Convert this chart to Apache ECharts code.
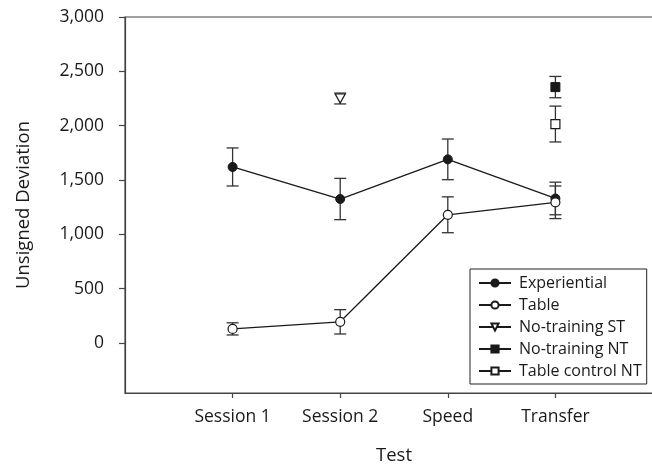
<!DOCTYPE html>
<html>
<head>
<meta charset="utf-8">
<script src="https://cdn.jsdelivr.net/npm/echarts@6/dist/echarts.min.js"></script>
<style>html,body{margin:0;padding:0;background:#fff}#c{width:652px;height:466px}</style>
</head>
<body>
<div id="c"></div>
<script>
var categories = ['Session 1', 'Session 2', 'Speed', 'Transfer'];
var catPos = [1, 2, 3, 4];
var yTicks = [0, 500, 1000, 1500, 2000, 2500, 3000];

var experiential = [1620, 1325, 1690, 1330];
var experientialErr = [175, 190, 187, 150];
var table = [130, 195, 1180, 1295];
var tableErr = [56, 112, 165, 150];
var noTrainingST = [2250];      // Session 2
var noTrainingSTErr = [50];
var noTrainingNT = [2355];      // Transfer
var noTrainingNTErr = [98];
var tableControlNT = [2015];    // Transfer
var tableControlNTErr = [165];

var FONT = 'Open Sans';
var INK = '#1a1a1a';

function pts(xs, ys) { return ys.map(function (v, i) { return [xs[i], v]; }); }
function bars(xs, ys, es) { return ys.map(function (v, i) { return [xs[i], v - es[i], v + es[i]]; }); }

var errData = []
  .concat(bars(catPos, experiential, experientialErr))
  .concat(bars(catPos, table, tableErr))
  .concat(bars([2], noTrainingST, noTrainingSTErr))
  .concat(bars([4], noTrainingNT, noTrainingNTErr))
  .concat(bars([4], tableControlNT, tableControlNTErr));

var chart = echarts.init(document.getElementById('c'));
var lineW = 1.3;
chart.setOption({
  animation: false,
  backgroundColor: '#fff',
  grid: { left: 125, top: 17, width: 538, height: 376, outerBoundsMode: 'none', containLabel: false,
    show: true, borderColor: '#444', borderWidth: 1.2, backgroundColor: 'transparent' },
  xAxis: {
    type: 'value', min: 0, max: 5,
    name: 'Test', nameLocation: 'middle', nameGap: 53,
    nameTextStyle: { fontFamily: FONT, fontSize: 18.5, color: INK },
    axisLine: { show: true, onZero: false, lineStyle: { color: '#444', width: 1.2 } },
    axisTick: { show: true, length: 5, customValues: catPos, lineStyle: { color: '#444', width: 1.2 } },
    axisLabel: { customValues: catPos, margin: 15, fontFamily: FONT, fontSize: 17.5, color: INK,
      formatter: function (v) { var i = catPos.indexOf(v); return i >= 0 ? categories[i] : ''; } },
    splitLine: { show: false }
  },
  yAxis: {
    type: 'value', min: -460, max: 3000,
    name: 'Unsigned Deviation', nameLocation: 'middle', nameGap: 92,
    nameTextStyle: { fontFamily: FONT, fontSize: 18.5, color: INK },
    axisLine: { show: true, onZero: false, lineStyle: { color: '#444', width: 1.2 } },
    axisTick: { show: true, length: 6, customValues: yTicks, lineStyle: { color: '#444', width: 1.2 } },
    axisLabel: { customValues: yTicks, margin: 21, fontFamily: FONT, fontSize: 17.5, color: INK,
      formatter: function (v) { return v.toLocaleString('en-US'); } },
    splitLine: { show: false }
  },
  legend: {
    orient: 'vertical', left: 470, top: 269,
    backgroundColor: '#fff', borderColor: '#222', borderWidth: 1,
    padding: [6, 5, 5, 8], itemGap: 6, itemWidth: 32, itemHeight: 9,
    textStyle: { fontFamily: FONT, fontSize: 16, color: INK, padding: [0, 0, 0, 3] },
    data: ['Experiential', 'Table', 'No-training ST', 'No-training NT', 'Table control NT']
  },
  series: [
    {
      type: 'custom', name: 'err', z: 1, silent: true,
      data: errData,
      renderItem: function (params, api) {
        var x = api.value(0);
        var lo = api.coord([x, api.value(1)]);
        var hi = api.coord([x, api.value(2)]);
        var w = 6;
        var st = { stroke: '#333', lineWidth: 1.3 };
        return { type: 'group', children: [
          { type: 'line', shape: { x1: lo[0], y1: lo[1], x2: hi[0], y2: hi[1] }, style: st },
          { type: 'line', shape: { x1: lo[0] - w, y1: lo[1], x2: lo[0] + w, y2: lo[1] }, style: st },
          { type: 'line', shape: { x1: hi[0] - w, y1: hi[1], x2: hi[0] + w, y2: hi[1] }, style: st }
        ] };
      }
    },
    {
      type: 'line', name: 'Experiential', z: 3, data: pts(catPos, experiential),
      symbol: 'circle', symbolSize: 9,
      lineStyle: { color: INK, width: lineW }, itemStyle: { color: INK, borderColor: INK, borderWidth: 1 }
    },
    {
      type: 'line', name: 'Table', z: 3, data: pts(catPos, table),
      symbol: 'circle', symbolSize: 9,
      lineStyle: { color: INK, width: lineW }, itemStyle: { color: '#fff', borderColor: INK, borderWidth: 1.2 }
    },
    {
      type: 'line', name: 'No-training ST', z: 3, data: pts([2], noTrainingST),
      symbol: 'triangle', symbolRotate: 180, symbolSize: [10, 9], showAllSymbol: true,
      lineStyle: { color: INK, width: lineW }, itemStyle: { color: '#fff', borderColor: INK, borderWidth: 1.2 }
    },
    {
      type: 'line', name: 'No-training NT', z: 3, data: pts([4], noTrainingNT),
      symbol: 'rect', symbolSize: 9, showAllSymbol: true,
      lineStyle: { color: INK, width: lineW }, itemStyle: { color: INK, borderColor: INK, borderWidth: 1 }
    },
    {
      type: 'line', name: 'Table control NT', z: 3, data: pts([4], tableControlNT),
      symbol: 'rect', symbolSize: 9, showAllSymbol: true,
      lineStyle: { color: INK, width: lineW }, itemStyle: { color: '#fff', borderColor: INK, borderWidth: 1.2 }
    }
  ]
});
</script>
</body>
</html>
